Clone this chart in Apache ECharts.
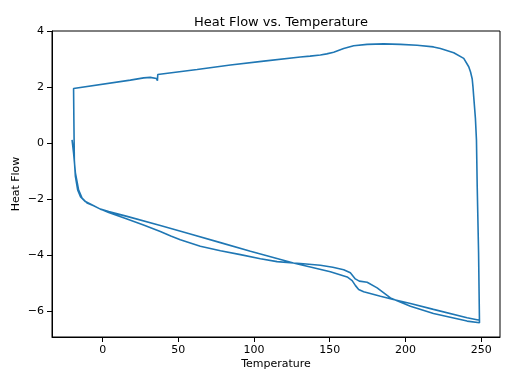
<!DOCTYPE html>
<html>
<head>
<meta charset="utf-8">
<script src="https://cdn.jsdelivr.net/npm/echarts@6/dist/echarts.min.js"></script>
<style>
html,body{margin:0;padding:0;background:#fff;}
#chart{width:512px;height:384px;}
</style>
</head>
<body>
<div id="chart"></div>
<script>
// First heating run (start -> lower curvy branch -> 250)
var heat1Temp = [-20.2, -19.2, -18.0, -16.9, -15.9, -13.6, -10.3, -5.9, -1.5, 4.0, 16.1, 27.0, 38.1, 45.0, 51.3, 64.5, 77.8, 91.0, 104.2, 115.2, 126.0, 130.6, 143.8, 152.0, 159.2, 163.6, 166.9, 169.5, 174.7, 181.3, 190.1, 203.3, 218.5, 240.7, 248.9];
var heat1Flow = [0.12, -0.35, -1.06, -1.38, -1.67, -1.96, -2.14, -2.24, -2.36, -2.48, -2.71, -2.93, -3.16, -3.32, -3.46, -3.69, -3.85, -3.99, -4.14, -4.24, -4.29, -4.31, -4.37, -4.44, -4.53, -4.64, -4.86, -4.94, -4.98, -5.18, -5.54, -5.84, -6.10, -6.37, -6.43];
// Cooling run (vertical rise at 250, top branch leftwards)
var coolTemp = [248.3, 247.4, 246.9, 246.2, 245.1, 244.6, 244.1, 243.0, 241.8, 238.5, 231.9, 223.1, 218.5, 207.7, 196.7, 185.6, 174.7, 165.8, 159.2, 152.6, 148.0, 143.8, 137.0, 130.6, 106.4, 84.4, 62.4, 36.4, 36.2, 35.5, 31.5, 27.1, 18.3, -19.2];
var coolFlow = [-3.92, -1.55, 0.12, 0.90, 1.66, 2.02, 2.30, 2.55, 2.74, 3.04, 3.24, 3.39, 3.45, 3.51, 3.54, 3.56, 3.54, 3.49, 3.39, 3.26, 3.20, 3.16, 3.12, 3.09, 2.94, 2.80, 2.64, 2.46, 2.24, 2.32, 2.36, 2.34, 2.26, 1.96];
// Second heating run (vertical drop at -19, straighter branch)
var heat2Temp = [-19.2, -19.0, -18.7, -18.0, -16.5, -14.7, -11.4, -5.9, -1.5, 4.0, 16.1, 38.1, 57.9, 77.8, 97.6, 126.0, 150.4, 161.5, 164.8, 167.0, 169.1, 172.4, 183.5, 192.0, 203.3, 218.5, 240.7, 248.9];
var heat2Flow = [1.96, 0.83, -0.60, -1.19, -1.67, -1.91, -2.09, -2.24, -2.36, -2.45, -2.62, -2.95, -3.25, -3.56, -3.87, -4.29, -4.60, -4.79, -4.92, -5.10, -5.24, -5.32, -5.48, -5.60, -5.74, -5.95, -6.25, -6.34];

var xTicks = [0, 50, 100, 150, 200, 250];
var yTicks = [-6, -4, -2, 0, 2, 4];

function pairs(t, f) { return t.map(function (v, i) { return [v, f[i]]; }); }
var data = [].concat(pairs(heat1Temp, heat1Flow), pairs(coolTemp, coolFlow), pairs(heat2Temp, heat2Flow));

function fmt(v) { return String(v).replace('-', '\u2212'); }
var FONT = 'DejaVu Sans';

var chart = echarts.init(document.getElementById('chart'), null, {renderer: 'canvas'});
chart.setOption({
  animation: false,
  backgroundColor: '#fff',
  title: {
    text: 'Heat Flow vs. Temperature',
    left: 276, top: 11, textAlign: 'center',
    textStyle: {fontFamily: FONT, fontSize: 13, fontWeight: 'normal', color: '#000'}
  },
  grid: {left: 52, right: 12, top: 31, bottom: 47, show: true, borderColor: '#000', borderWidth: 1, backgroundColor: 'transparent'},
  xAxis: {
    type: 'value', min: -33.45, max: 262.45,
    name: 'Temperature', nameLocation: 'middle', nameGap: 22, nameMoveOverlap: false,
    nameTextStyle: {fontFamily: FONT, fontSize: 11, color: '#000'},
    axisLine: {show: true, onZero: false, lineStyle: {color: '#000', width: 1}},
    axisTick: {show: true, inside: false, length: 5, lineStyle: {color: '#000', width: 1}, customValues: xTicks},
    axisLabel: {fontFamily: FONT, fontSize: 11, color: '#000', margin: 8, customValues: xTicks, formatter: fmt},
    splitLine: {show: false}
  },
  yAxis: {
    type: 'value', min: -6.94, max: 4.02,
    name: 'Heat Flow', nameLocation: 'middle', nameGap: 30, nameMoveOverlap: false,
    nameTextStyle: {fontFamily: FONT, fontSize: 11, color: '#000'},
    axisLine: {show: true, onZero: false, lineStyle: {color: '#000', width: 1}},
    axisTick: {show: true, inside: false, length: 5, lineStyle: {color: '#000', width: 1}, customValues: yTicks},
    axisLabel: {fontFamily: FONT, fontSize: 11, color: '#000', margin: 8, customValues: yTicks, formatter: fmt},
    splitLine: {show: false}
  },
  series: [{
    type: 'line', data: data, showSymbol: false, smooth: false,
    lineStyle: {color: '#1f77b4', width: 1.6},
    itemStyle: {color: '#1f77b4'}
  }]
});
</script>
</body>
</html>
